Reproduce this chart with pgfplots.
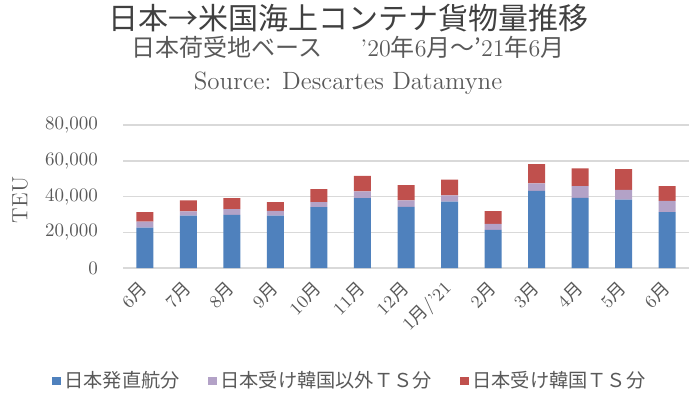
\documentclass[border=0pt]{standalone}
\usepackage{pgfplots}
\pgfplotsset{compat=1.18}
\usepackage{fontspec}
\newfontfamily\cjk{Noto Sans CJK JP}
\definecolor{cblue}{HTML}{4F81BD}
\definecolor{cpurple}{HTML}{B3A2C7}
\definecolor{cred}{HTML}{C0504D}
\definecolor{txt}{HTML}{595959}
\definecolor{ttl}{HTML}{404040}
\definecolor{gridc}{HTML}{D9D9D9}
\begin{document}
\begin{tikzpicture}
\useasboundingbox (0pt,0pt) rectangle (350pt,198pt);
\node[text=ttl, font=\cjk\fontsize{15}{18}\selectfont] at (174pt,189pt) {日本→米国海上コンテナ貨物量推移};
\node[text=txt, font=\fontsize{12}{14}\selectfont] at (174pt,174.5pt) {{\cjk 日本荷受地ベース}\hspace{1.6em}'20{\cjk 年}6{\cjk 月～’}21{\cjk 年}6{\cjk 月}};
\node[text=txt, font=\fontsize{12.5}{15}\selectfont] at (174pt,156.5pt) {Source: Descartes Datamyne};
\node[text=txt, rotate=90, font=\fontsize{11}{13}\selectfont] at (10pt,98pt) {TEU};
\begin{axis}[
  at={(61.5pt,64pt)}, anchor=south west,
  scale only axis, width=283pt, height=71.5pt,
  xmin=-0.5, xmax=12.5, ymin=0, ymax=80000,
  ybar stacked, bar width=8.5pt,
  xtick={0,...,12},
  xticklabels={6{\cjk 月},7{\cjk 月},8{\cjk 月},9{\cjk 月},10{\cjk 月},11{\cjk 月},12{\cjk 月},1{\cjk 月}/'21,2{\cjk 月},3{\cjk 月},4{\cjk 月},5{\cjk 月},6{\cjk 月}},
  ytick={0,20000,40000,60000,80000},
  scaled y ticks=false,
  /pgf/number format/fixed,
  /pgf/number format/1000 sep={,},
  /pgf/number format/assume math mode=true,
  ymajorgrids, grid style={gridc, line width=0.75pt},
  axis line style={draw=none}, major tick length=0pt,
  tick label style={text=txt, font=\fontsize{9.5}{11}\selectfont},
  yticklabel style={xshift=-9pt},
  xticklabel style={rotate=45, anchor=east, font=\fontsize{9}{11}\selectfont, xshift=-3pt, yshift=-6pt},
  legend style={at={(0.402,-0.79)}, anchor=center, draw=none, fill=none,
    legend columns=3, font=\cjk\fontsize{9.6}{12}\selectfont, text=txt,
    /tikz/every even column/.append style={column sep=12pt}},
  legend image code/.code={\fill[#1] (0pt,-2.2pt) rectangle (4.4pt,2.2pt);},
]
\addplot[fill=cblue, draw=none] coordinates {(0,22600) (1,29300) (2,29700) (3,29300) (4,34000) (5,39100) (6,34200) (7,37200) (8,21300) (9,43200) (10,39300) (11,38300) (12,31200)};
\addplot[fill=cpurple, draw=none] coordinates {(0,3400) (1,2400) (2,3200) (3,2600) (4,2800) (5,3700) (6,3700) (7,3500) (8,3400) (9,4100) (10,6500) (11,5400) (12,6400)};
\addplot[fill=cred, draw=none] coordinates {(0,5200) (1,6200) (2,6200) (3,5000) (4,7300) (5,8800) (6,8400) (7,8800) (8,7100) (9,10800) (10,9900) (11,11600) (12,8200)};
\legend{日本発直航分,日本受け韓国以外ＴＳ分,日本受け韓国ＴＳ分}
\end{axis}
\end{tikzpicture}
\end{document}
